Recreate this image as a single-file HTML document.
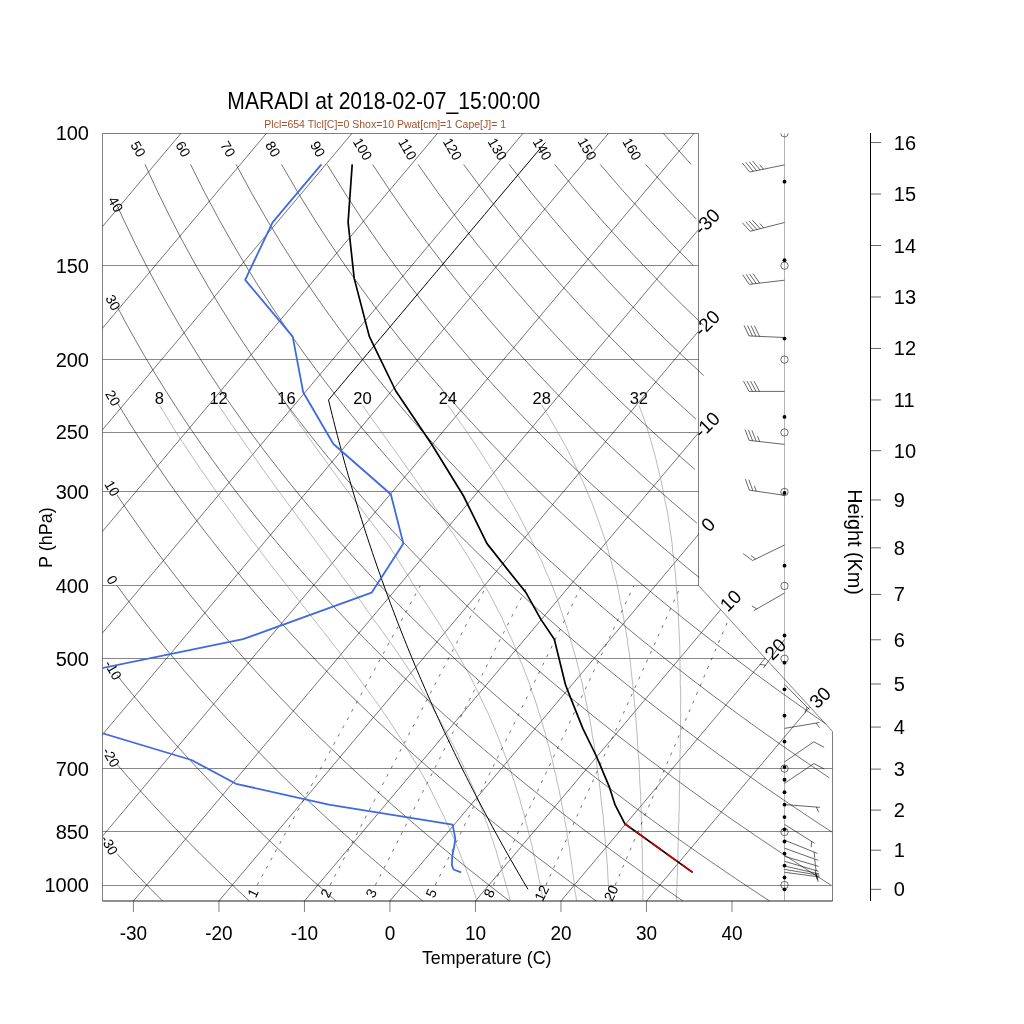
<!DOCTYPE html>
<html><head><meta charset="utf-8"><style>
html,body{margin:0;padding:0;background:#fff;}
svg{display:block;}
text{font-family:"Liberation Sans",Arial,Helvetica,sans-serif;}
</style></head><body>
<svg width="1024" height="1024" viewBox="0 0 1024 1024">
<defs><clipPath id="cp"><polygon points="102.50,901.00 102.50,133.30 698.50,133.30 698.50,585.50 832.50,731.47 832.50,901.00"/></clipPath>
<clipPath id="cpr"><rect x="0" y="133.20" width="1024" height="767.77"/></clipPath></defs>
<g clip-path="url(#cp)" fill="none">
<line x1="102.50" y1="885.50" x2="832.50" y2="885.50" stroke="#000" stroke-width="0.47"/>
<line x1="102.50" y1="831.50" x2="832.50" y2="831.50" stroke="#000" stroke-width="0.47"/>
<line x1="102.50" y1="768.50" x2="832.50" y2="768.50" stroke="#000" stroke-width="0.47"/>
<line x1="102.50" y1="658.50" x2="832.50" y2="658.50" stroke="#000" stroke-width="0.47"/>
<line x1="102.50" y1="585.50" x2="832.50" y2="585.50" stroke="#000" stroke-width="0.47"/>
<line x1="102.50" y1="491.50" x2="832.50" y2="491.50" stroke="#000" stroke-width="0.47"/>
<line x1="102.50" y1="432.50" x2="832.50" y2="432.50" stroke="#000" stroke-width="0.47"/>
<line x1="102.50" y1="359.50" x2="832.50" y2="359.50" stroke="#000" stroke-width="0.47"/>
<line x1="102.50" y1="265.50" x2="832.50" y2="265.50" stroke="#000" stroke-width="0.47"/>
<line x1="-550.66" y1="900.97" x2="95.52" y2="133.29" stroke="#000" stroke-width="0.55"/>
<line x1="-465.15" y1="900.97" x2="181.02" y2="133.29" stroke="#000" stroke-width="0.55"/>
<line x1="-379.64" y1="900.97" x2="266.53" y2="133.29" stroke="#000" stroke-width="0.55"/>
<line x1="-294.13" y1="900.97" x2="352.04" y2="133.29" stroke="#000" stroke-width="0.55"/>
<line x1="-208.62" y1="900.97" x2="437.55" y2="133.29" stroke="#000" stroke-width="0.55"/>
<line x1="-123.11" y1="900.97" x2="523.06" y2="133.29" stroke="#000" stroke-width="0.55"/>
<line x1="-37.60" y1="900.97" x2="608.57" y2="133.29" stroke="#000" stroke-width="0.55"/>
<line x1="47.91" y1="900.97" x2="694.08" y2="133.29" stroke="#000" stroke-width="0.55"/>
<line x1="133.42" y1="900.97" x2="779.59" y2="133.29" stroke="#000" stroke-width="0.55"/>
<line x1="218.93" y1="900.97" x2="865.10" y2="133.29" stroke="#000" stroke-width="0.55"/>
<line x1="304.44" y1="900.97" x2="950.61" y2="133.29" stroke="#000" stroke-width="0.55"/>
<line x1="389.95" y1="900.97" x2="1036.12" y2="133.29" stroke="#000" stroke-width="0.55"/>
<line x1="475.46" y1="900.97" x2="1121.63" y2="133.29" stroke="#000" stroke-width="0.55"/>
<line x1="560.96" y1="900.97" x2="1207.14" y2="133.29" stroke="#000" stroke-width="0.55"/>
<line x1="646.47" y1="900.97" x2="1292.65" y2="133.29" stroke="#000" stroke-width="0.55"/>
</g>
<g fill="none" stroke="#8c8c8c" stroke-width="0.6">
<polyline points="477.29,900.97 475.92,897.85 475.06,894.69 473.99,891.51 472.94,888.29 471.66,885.04 470.42,881.76 469.45,878.45 468.26,875.10 466.85,871.71 465.72,868.29 464.37,864.84 463.05,861.35 461.51,857.82 460.25,854.25 458.78,850.64 457.34,846.99 455.69,843.31 454.32,839.57 452.49,835.80 450.94,831.98 449.18,828.12 447.46,824.21 445.53,820.25 443.89,816.24 441.80,812.19 439.74,808.08 437.73,803.92 435.77,799.71 433.35,795.44 431.47,791.12 429.15,786.74 426.63,782.29 424.15,777.79 421.48,773.22 418.87,768.59 416.31,763.90 413.31,759.13 410.36,754.29 407.48,749.38 404.66,744.40 401.41,739.34 397.97,734.19 394.60,728.97 391.05,723.66 387.58,718.27 383.68,712.78 379.86,707.20 375.87,701.52 371.72,695.74 367.40,689.86 362.97,683.87 358.64,677.76 353.90,671.55 349.27,665.21 344.24,658.74 339.32,652.14 334.01,645.41 328.83,638.54 323.26,631.52 317.58,624.34 311.85,617.01 306.01,609.50 299.82,601.82 293.79,593.95 287.16,585.89 280.71,577.62 274.19,569.14 267.36,560.43 260.48,551.49 253.31,542.29 246.27,532.83 238.96,523.08 231.65,513.04 224.11,502.67 216.36,491.96 208.91,480.90 200.79,469.44 192.76,457.57 184.62,445.24 176.12,432.44 168.05,419.11 159.45,405.22"/>
<polyline points="510.11,900.97 509.49,897.85 508.63,894.69 507.81,891.51 507.01,888.29 505.98,885.04 504.99,881.76 504.27,878.45 503.08,875.10 502.42,871.71 501.29,868.29 500.19,864.84 499.12,861.35 498.08,857.82 497.08,854.25 496.11,850.64 494.67,846.99 493.77,843.31 492.40,839.57 491.06,835.80 489.77,831.98 488.51,828.12 487.29,824.21 485.62,820.25 484.23,816.24 482.88,812.19 481.33,808.08 479.57,803.92 477.85,799.71 476.18,795.44 474.56,791.12 472.74,786.74 470.47,782.29 468.75,777.79 466.58,773.22 464.46,768.59 462.40,763.90 459.90,759.13 457.96,754.29 455.33,749.38 452.76,744.40 450.01,739.34 447.32,734.19 444.70,728.97 441.66,723.66 438.68,718.27 435.54,712.78 432.47,707.20 428.73,701.52 425.33,695.74 421.51,689.86 418.12,683.87 414.06,677.76 410.11,671.55 406.01,665.21 401.51,658.74 397.12,652.14 392.34,645.41 387.44,638.54 382.40,631.52 377.25,624.34 371.76,617.01 366.41,609.50 361.22,601.82 355.17,593.95 349.29,585.89 343.08,577.62 337.05,569.14 330.21,560.43 323.57,551.49 316.64,542.29 309.47,532.83 302.29,523.08 294.87,513.04 287.21,502.67 279.33,491.96 271.26,480.90 263.02,469.44 254.87,457.57 246.10,445.24 237.24,432.44 227.92,419.11 218.57,405.22"/>
<polyline points="542.93,900.97 542.55,897.85 542.20,894.69 541.38,891.51 540.58,888.29 540.30,885.04 539.56,881.76 538.84,878.45 538.15,875.10 537.49,871.71 536.86,868.29 536.26,864.84 535.20,861.35 534.66,857.82 533.65,854.25 532.93,850.64 532.25,846.99 531.34,843.31 530.48,839.57 529.64,835.80 528.35,831.98 527.59,828.12 526.38,824.21 525.45,820.25 524.56,816.24 523.46,812.19 522.16,808.08 520.90,803.92 519.94,799.71 518.52,795.44 517.15,791.12 515.83,786.74 514.56,782.29 512.84,777.79 511.42,773.22 509.81,768.59 508.00,763.90 506.50,759.13 504.56,754.29 502.93,749.38 500.86,744.40 499.11,739.34 496.92,734.19 494.81,728.97 492.51,723.66 490.29,718.27 487.90,712.78 485.08,707.20 482.34,701.52 479.69,695.74 476.88,689.86 473.68,683.87 470.83,677.76 467.58,671.55 463.93,665.21 460.38,658.74 456.44,652.14 452.62,645.41 448.41,638.54 444.08,631.52 439.63,624.34 434.92,617.01 430.11,609.50 424.94,601.82 419.68,593.95 414.08,585.89 409.26,577.62 403.87,569.14 398.42,560.43 392.67,551.49 386.63,542.29 379.43,532.83 371.98,523.08 364.27,513.04 356.33,502.67 348.17,491.96 340.04,480.90 331.73,469.44 323.27,457.57 314.19,445.24 305.26,432.44 295.77,419.11 286.50,405.22"/>
<polyline points="576.50,900.97 576.12,897.85 575.77,894.69 574.95,891.51 574.65,888.29 574.37,885.04 574.13,881.76 573.41,878.45 573.23,875.10 572.57,871.71 572.19,868.29 571.84,864.84 571.27,861.35 570.73,857.82 570.23,854.25 569.76,850.64 569.32,846.99 568.42,843.31 568.05,839.57 567.22,835.80 566.93,831.98 566.17,828.12 565.46,824.21 564.78,820.25 564.14,816.24 563.30,812.19 562.50,808.08 561.74,803.92 561.02,799.71 560.11,795.44 559.24,791.12 558.42,786.74 557.15,782.29 556.43,777.79 555.26,773.22 554.15,768.59 553.09,763.90 552.09,759.13 550.65,754.29 549.52,749.38 548.21,744.40 546.71,739.34 545.52,734.19 543.91,728.97 542.37,723.66 540.90,718.27 539.05,712.78 537.28,707.20 535.60,701.52 533.50,695.74 531.49,689.86 529.57,683.87 527.24,677.76 524.76,671.55 522.38,665.21 519.60,658.74 517.09,652.14 514.43,645.41 511.40,638.54 507.99,631.52 504.71,624.34 501.57,617.01 497.56,609.50 493.71,601.82 489.51,593.95 484.97,585.89 480.41,577.62 475.54,569.14 470.35,560.43 464.86,551.49 458.83,542.29 452.47,532.83 445.84,523.08 438.97,513.04 431.86,502.67 424.03,491.96 416.23,480.90 408.26,469.44 399.89,457.57 390.89,445.24 381.80,432.44 372.14,419.11 362.46,405.22"/>
<polyline points="609.57,900.97 609.19,897.85 609.34,894.69 609.02,891.51 608.72,888.29 608.45,885.04 608.20,881.76 607.98,878.45 607.80,875.10 607.64,871.71 607.51,868.29 607.41,864.84 606.84,861.35 606.81,857.82 606.30,854.25 606.08,850.64 605.90,846.99 605.50,843.31 605.13,839.57 604.80,835.80 604.51,831.98 604.25,828.12 603.78,824.21 603.36,820.25 603.22,816.24 602.63,812.19 602.08,808.08 601.57,803.92 601.11,799.71 600.69,795.44 600.32,791.12 599.75,786.74 599.23,782.29 598.51,777.79 597.85,773.22 597.24,768.59 596.68,763.90 596.18,759.13 595.25,754.29 594.87,749.38 594.05,744.40 593.05,739.34 592.12,734.19 591.51,728.97 590.46,723.66 589.50,718.27 588.10,712.78 587.29,707.20 586.06,701.52 584.91,695.74 583.34,689.86 582.40,683.87 580.81,677.76 579.31,671.55 577.66,665.21 576.12,658.74 574.18,652.14 572.36,645.41 570.16,638.54 568.09,631.52 565.89,624.34 563.36,617.01 560.72,609.50 558.22,601.82 555.39,593.95 552.21,585.89 548.71,577.62 544.88,569.14 541.25,560.43 536.81,551.49 532.59,542.29 527.85,532.83 522.85,523.08 517.59,513.04 511.61,502.67 505.41,491.96 498.82,480.90 491.57,469.44 483.91,457.57 475.88,445.24 467.25,432.44 457.81,419.11 447.85,405.22"/>
<polyline points="643.14,900.97 642.76,897.85 642.91,894.69 643.09,891.51 642.79,888.29 642.77,885.04 642.77,881.76 642.56,878.45 642.87,875.10 642.71,871.71 642.58,868.29 642.48,864.84 642.42,861.35 642.38,857.82 642.38,854.25 642.41,850.64 641.97,846.99 642.07,843.31 641.96,839.57 641.88,835.80 641.58,831.98 641.83,828.12 641.61,824.21 641.44,820.25 641.30,816.24 641.21,812.19 641.16,808.08 640.90,803.92 640.69,799.71 640.77,795.44 640.41,791.12 640.09,786.74 639.82,782.29 639.60,777.79 639.43,773.22 639.32,768.59 639.27,763.90 638.77,759.13 638.33,754.29 637.96,749.38 637.64,744.40 637.40,739.34 637.21,734.19 636.60,728.97 636.31,723.66 635.84,718.27 635.25,712.78 634.99,707.20 634.31,701.52 633.97,695.74 633.21,689.86 632.80,683.87 631.98,677.76 631.25,671.55 630.63,665.21 629.86,658.74 629.20,652.14 627.91,645.41 627.23,638.54 625.93,631.52 624.76,624.34 623.49,617.01 622.11,609.50 620.38,601.82 619.06,593.95 617.40,585.89 615.40,577.62 613.09,569.14 610.97,560.43 608.55,551.49 605.84,542.29 602.72,532.83 599.33,523.08 595.70,513.04 591.83,502.67 587.24,491.96 582.47,480.90 577.01,469.44 571.41,457.57 565.18,445.24 557.85,432.44 550.46,419.11 541.80,405.22"/>
<polyline points="676.71,900.97 676.58,897.85 676.48,894.69 676.66,891.51 676.86,888.29 677.09,885.04 677.09,881.76 677.13,878.45 677.44,875.10 677.28,871.71 677.65,868.29 677.56,864.84 677.49,861.35 677.96,857.82 677.95,854.25 677.98,850.64 678.05,846.99 678.15,843.31 678.28,839.57 678.45,835.80 678.66,831.98 678.40,828.12 678.69,824.21 679.01,820.25 678.88,816.24 679.04,812.19 679.24,808.08 679.23,803.92 679.27,799.71 679.35,795.44 679.49,791.12 679.67,786.74 679.40,782.29 679.68,777.79 679.77,773.22 679.91,768.59 679.89,763.90 679.94,759.13 680.04,754.29 680.20,749.38 680.43,744.40 680.22,739.34 680.58,734.19 680.51,728.97 680.51,723.66 680.58,718.27 680.73,712.78 680.46,707.20 680.77,701.52 680.66,695.74 680.64,689.86 680.22,683.87 680.38,677.76 680.15,671.55 680.01,665.21 679.98,658.74 679.83,652.14 679.79,645.41 679.38,638.54 679.08,631.52 678.67,624.34 678.39,617.01 678.26,609.50 677.77,601.82 676.94,593.95 676.27,585.89 675.73,577.62 674.87,569.14 673.95,560.43 672.73,551.49 671.98,542.29 670.45,532.83 669.16,523.08 667.62,513.04 665.35,502.67 663.36,491.96 661.18,480.90 658.32,469.44 655.56,457.57 652.18,445.24 648.45,432.44 644.16,419.11 638.85,405.22"/>
</g>
<g clip-path="url(#cp)" fill="none" stroke="#000" stroke-width="0.55" stroke-dasharray="3,6.4">
<line x1="257.21" y1="885.04" x2="420.14" y2="585.89"/>
<line x1="330.17" y1="885.04" x2="486.43" y2="585.89"/>
<line x1="375.42" y1="885.04" x2="527.39" y2="585.89"/>
<line x1="435.32" y1="885.04" x2="581.45" y2="585.89"/>
<line x1="493.43" y1="885.04" x2="633.73" y2="585.89"/>
<line x1="545.94" y1="885.04" x2="680.83" y2="585.89"/>
<line x1="615.23" y1="885.04" x2="742.81" y2="585.89"/>
</g>
<g fill="none" stroke="#000" stroke-width="0.55">
<polyline points="117.07,853.82 117.47,854.25 120.79,857.82 124.10,861.35 127.40,864.84 130.67,868.29 133.93,871.71 137.18,875.10 140.41,878.45 143.62,881.76 146.82,885.04 150.01,888.29 153.18,891.51 156.33,894.69 159.47,897.85 162.60,900.97"/>
<polyline points="117.07,764.48 120.63,768.59 124.67,773.22 128.69,777.79 132.68,782.29 136.65,786.74 140.59,791.12 144.51,795.44 148.41,799.71 152.28,803.92 156.13,808.08 159.96,812.19 163.77,816.24 167.55,820.25 171.32,824.21 175.06,828.12 178.78,831.98 182.49,835.80 186.17,839.57 189.83,843.31 193.47,846.99 197.10,850.64 200.70,854.25 204.29,857.82 207.86,861.35 211.41,864.84 214.94,868.29 218.45,871.71 221.95,875.10 225.43,878.45 228.89,881.76 232.33,885.04 235.76,888.29 239.17,891.51 242.57,894.69 245.95,897.85 249.31,900.97"/>
<polyline points="117.07,675.30 119.04,677.76 123.95,683.87 128.83,689.86 133.67,695.74 138.47,701.52 143.24,707.20 147.97,712.78 152.66,718.27 157.33,723.66 161.95,728.97 166.55,734.19 171.12,739.34 175.65,744.40 180.15,749.38 184.62,754.29 189.06,759.13 193.48,763.90 197.86,768.59 202.21,773.22 206.54,777.79 210.84,782.29 215.11,786.74 219.35,791.12 223.57,795.44 227.76,799.71 231.93,803.92 236.07,808.08 240.19,812.19 244.28,816.24 248.35,820.25 252.39,824.21 256.42,828.12 260.41,831.98 264.39,835.80 268.34,839.57 272.27,843.31 276.18,846.99 280.07,850.64 283.94,854.25 287.79,857.82 291.61,861.35 295.42,864.84 299.20,868.29 302.97,871.71 306.72,875.10 310.44,878.45 314.15,881.76 317.84,885.04 321.52,888.29 325.17,891.51 328.80,894.69 332.42,897.85 336.02,900.97"/>
<polyline points="117.07,585.72 117.19,585.89 123.13,593.95 129.02,601.82 134.85,609.50 140.63,617.01 146.35,624.34 152.02,631.52 157.64,638.54 163.21,645.41 168.74,652.14 174.21,658.74 179.64,665.21 185.03,671.55 190.36,677.76 195.66,683.87 200.91,689.86 206.12,695.74 211.29,701.52 216.42,707.20 221.51,712.78 226.56,718.27 231.57,723.66 236.55,728.97 241.49,734.19 246.39,739.34 251.26,744.40 256.09,749.38 260.89,754.29 265.65,759.13 270.38,763.90 275.08,768.59 279.75,773.22 284.39,777.79 288.99,782.29 293.57,786.74 298.12,791.12 302.63,795.44 307.12,799.71 311.58,803.92 316.01,808.08 320.42,812.19 324.79,816.24 329.15,820.25 333.47,824.21 337.77,828.12 342.04,831.98 346.29,835.80 350.52,839.57 354.72,843.31 358.89,846.99 363.05,850.64 367.18,854.25 371.28,857.82 375.37,861.35 379.43,864.84 383.47,868.29 387.49,871.71 391.49,875.10 395.46,878.45 399.42,881.76 403.35,885.04 407.27,888.29 411.16,891.51 415.04,894.69 418.89,897.85 422.73,900.97"/>
<polyline points="117.07,495.05 122.17,502.67 129.23,513.04 136.21,523.08 143.12,532.83 149.95,542.29 156.70,551.49 163.38,560.43 169.99,569.14 176.53,577.62 183.01,585.89 189.41,593.95 195.76,601.82 202.04,609.50 208.26,617.01 214.42,624.34 220.52,631.52 226.56,638.54 232.55,645.41 238.48,652.14 244.36,658.74 250.19,665.21 255.96,671.55 261.69,677.76 267.37,683.87 273.00,689.86 278.58,695.74 284.12,701.52 289.61,707.20 295.05,712.78 300.46,718.27 305.82,723.66 311.14,728.97 316.42,734.19 321.66,739.34 326.86,744.40 332.03,749.38 337.15,754.29 342.24,759.13 347.29,763.90 352.31,768.59 357.29,773.22 362.24,777.79 367.15,782.29 372.03,786.74 376.88,791.12 381.69,795.44 386.48,799.71 391.23,803.92 395.95,808.08 400.64,812.19 405.31,816.24 409.94,820.25 414.55,824.21 419.12,828.12 423.67,831.98 428.20,835.80 432.69,839.57 437.16,843.31 441.60,846.99 446.02,850.64 450.41,854.25 454.78,857.82 459.12,861.35 463.44,864.84 467.74,868.29 472.01,871.71 476.26,875.10 480.48,878.45 484.68,881.76 488.86,885.04 493.02,888.29 497.16,891.51 501.27,894.69 505.37,897.85 509.44,900.97"/>
<polyline points="117.07,402.40 118.75,405.22 127.21,419.11 135.55,432.44 143.78,445.24 151.90,457.57 159.92,469.44 167.83,480.90 175.65,491.96 183.36,502.67 190.98,513.04 198.51,523.08 205.95,532.83 213.30,542.29 220.56,551.49 227.75,560.43 234.85,569.14 241.87,577.62 248.82,585.89 255.70,593.95 262.50,601.82 269.23,609.50 275.89,617.01 282.48,624.34 289.01,631.52 295.48,638.54 301.88,645.41 308.22,652.14 314.51,658.74 320.73,665.21 326.90,671.55 333.01,677.76 339.07,683.87 345.08,689.86 351.03,695.74 356.94,701.52 362.79,707.20 368.60,712.78 374.36,718.27 380.07,723.66 385.74,728.97 391.36,734.19 396.94,739.34 402.47,744.40 407.96,749.38 413.42,754.29 418.83,759.13 424.20,763.90 429.53,768.59 434.83,773.22 440.09,777.79 445.31,782.29 450.49,786.74 455.64,791.12 460.75,795.44 465.83,799.71 470.88,803.92 475.89,808.08 480.87,812.19 485.82,816.24 490.74,820.25 495.62,824.21 500.48,828.12 505.30,831.98 510.10,835.80 514.87,839.57 519.60,843.31 524.31,846.99 529.00,850.64 533.65,854.25 538.28,857.82 542.88,861.35 547.45,864.84 552.00,868.29 556.53,871.71 561.02,875.10 565.50,878.45 569.95,881.76 574.37,885.04 578.77,888.29 583.15,891.51 587.51,894.69 591.84,897.85 596.15,900.97"/>
<polyline points="117.07,306.51 117.08,306.53 127.09,325.19 136.96,342.84 146.67,359.59 156.24,375.52 165.66,390.70 174.94,405.22 184.08,419.11 193.09,432.44 201.97,445.24 210.73,457.57 219.36,469.44 227.87,480.90 236.27,491.96 244.55,502.67 252.73,513.04 260.81,523.08 268.78,532.83 276.65,542.29 284.43,551.49 292.11,560.43 299.71,569.14 307.21,577.62 314.64,585.89 321.98,593.95 329.24,601.82 336.42,609.50 343.52,617.01 350.55,624.34 357.51,631.52 364.40,638.54 371.22,645.41 377.97,652.14 384.65,658.74 391.28,665.21 397.84,671.55 404.34,677.76 410.78,683.87 417.16,689.86 423.49,695.74 429.76,701.52 435.98,707.20 442.14,712.78 448.26,718.27 454.32,723.66 460.33,728.97 466.29,734.19 472.21,739.34 478.08,744.40 483.90,749.38 489.68,754.29 495.42,759.13 501.11,763.90 506.76,768.59 512.37,773.22 517.94,777.79 523.46,782.29 528.95,786.74 534.40,791.12 539.82,795.44 545.19,799.71 550.53,803.92 555.83,808.08 561.10,812.19 566.34,816.24 571.53,820.25 576.70,824.21 581.83,828.12 586.93,831.98 592.00,835.80 597.04,839.57 602.05,843.31 607.02,846.99 611.97,850.64 616.89,854.25 621.77,857.82 626.63,861.35 631.46,864.84 636.27,868.29 641.04,871.71 645.79,875.10 650.52,878.45 655.21,881.76 659.88,885.04 664.53,888.29 669.15,891.51 673.74,894.69 678.31,897.85 682.86,900.97"/>
<polyline points="117.07,205.46 123.26,218.94 134.88,243.14 146.32,265.66 157.56,286.73 168.62,306.53 179.48,325.19 190.16,342.84 200.66,359.59 210.99,375.52 221.14,390.70 231.13,405.22 240.96,419.11 250.64,432.44 260.17,445.24 269.55,457.57 278.80,469.44 287.91,480.90 296.89,491.96 305.75,502.67 314.48,513.04 323.10,523.08 331.61,532.83 340.00,542.29 348.29,551.49 356.48,560.43 364.57,569.14 372.56,577.62 380.45,585.89 388.26,593.95 395.97,601.82 403.60,609.50 411.15,617.01 418.62,624.34 426.00,631.52 433.31,638.54 440.55,645.41 447.71,652.14 454.80,658.74 461.82,665.21 468.78,671.55 475.66,677.76 482.49,683.87 489.25,689.86 495.95,695.74 502.58,701.52 509.16,707.20 515.69,712.78 522.15,718.27 528.57,723.66 534.92,728.97 541.23,734.19 547.48,739.34 553.69,744.40 559.84,749.38 565.95,754.29 572.01,759.13 578.02,763.90 583.98,768.59 589.91,773.22 595.79,777.79 601.62,782.29 607.41,786.74 613.17,791.12 618.88,795.44 624.55,799.71 630.18,803.92 635.77,808.08 641.33,812.19 646.85,816.24 652.33,820.25 657.78,824.21 663.19,828.12 668.56,831.98 673.91,835.80 679.21,839.57 684.49,843.31 689.73,846.99 694.94,850.64 700.12,854.25 705.27,857.82 710.39,861.35 715.48,864.84 720.53,868.29 725.56,871.71 730.56,875.10 735.53,878.45 740.48,881.76 745.39,885.04 750.28,888.29 755.14,891.51 759.98,894.69 764.79,897.85 769.57,900.97"/>
<polyline points="145.00,164.40 158.11,192.81 171.00,218.94 183.64,243.14 196.05,265.66 208.22,286.73 220.16,306.53 231.87,325.19 243.37,342.84 254.65,359.59 265.74,375.52 276.62,390.70 287.32,405.22 297.84,419.11 308.18,432.44 318.36,445.24 328.37,457.57 338.23,469.44 347.94,480.90 357.51,491.96 366.94,502.67 376.23,513.04 385.40,523.08 394.43,532.83 403.35,542.29 412.15,551.49 420.84,560.43 429.42,569.14 437.90,577.62 446.27,585.89 454.54,593.95 462.71,601.82 470.79,609.50 478.78,617.01 486.69,624.34 494.50,631.52 502.23,638.54 509.88,645.41 517.45,652.14 524.95,658.74 532.37,665.21 539.71,671.55 546.99,677.76 554.19,683.87 561.33,689.86 568.40,695.74 575.41,701.52 582.35,707.20 589.23,712.78 596.05,718.27 602.81,723.66 609.52,728.97 616.16,734.19 622.76,739.34 629.29,744.40 635.78,749.38 642.21,754.29 648.59,759.13 654.93,763.90 661.21,768.59 667.45,773.22 673.63,777.79 679.78,782.29 685.88,786.74 691.93,791.12 697.94,795.44 703.91,799.71 709.83,803.92 715.72,808.08 721.56,812.19 727.36,816.24 733.13,820.25 738.85,824.21 744.54,828.12 750.19,831.98 755.81,835.80 761.39,839.57 766.93,843.31 772.44,846.99 777.92,850.64 783.36,854.25 788.77,857.82 794.14,861.35 799.49,864.84 804.80,868.29 810.08,871.71 815.33,875.10 820.55,878.45 825.74,881.76 830.90,885.04"/>
<polyline points="190.52,164.40 204.77,192.81 218.73,218.94 232.40,243.14 245.78,265.66 258.87,286.73 271.70,306.53 284.26,325.19 296.57,342.84 308.65,359.59 320.49,375.52 332.11,390.70 343.51,405.22 354.72,419.11 365.73,432.44 376.55,445.24 387.20,457.57 397.67,469.44 407.98,480.90 418.13,491.96 428.13,502.67 437.98,513.04 447.69,523.08 457.26,532.83 466.70,542.29 476.02,551.49 485.21,560.43 494.28,569.14 503.24,577.62 512.08,585.89 520.82,593.95 529.45,601.82 537.98,609.50 546.42,617.01 554.75,624.34 563.00,631.52 571.15,638.54 579.22,645.41 587.20,652.14 595.10,658.74 602.91,665.21 610.65,671.55 618.31,677.76 625.90,683.87 633.41,689.86 640.86,695.74 648.23,701.52 655.54,707.20 662.78,712.78 669.95,718.27 677.06,723.66 684.11,728.97 691.10,734.19 698.03,739.34 704.90,744.40 711.72,749.38 718.48,754.29 725.18,759.13 731.84,763.90 738.44,768.59 744.99,773.22 751.48,777.79 757.93,782.29 764.34,786.74 770.69,791.12 777.00,795.44 783.26,799.71 789.48,803.92 795.66,808.08 801.79,812.19 807.88,816.24 813.92,820.25 819.93,824.21 825.90,828.12 831.82,831.98"/>
<polyline points="236.03,164.40 251.43,192.81 266.47,218.94 281.16,243.14 295.51,265.66 309.53,286.73 323.24,306.53 336.65,325.19 349.78,342.84 362.64,359.59 375.23,375.52 387.59,390.70 399.70,405.22 411.60,419.11 423.27,432.44 434.75,445.24 446.02,457.57 457.11,469.44 468.02,480.90 478.75,491.96 489.32,502.67 499.73,513.04 509.99,523.08 520.09,532.83 530.06,542.29 539.88,551.49 549.57,560.43 559.14,569.14 568.58,577.62 577.90,585.89 587.10,593.95 596.19,601.82 605.17,609.50 614.05,617.01 622.82,624.34 631.49,631.52 640.07,638.54 648.55,645.41 656.94,652.14 665.24,658.74 673.46,665.21 681.59,671.55 689.64,677.76 697.61,683.87 705.50,689.86 713.31,695.74 721.05,701.52 728.72,707.20 736.32,712.78 743.85,718.27 751.31,723.66 758.70,728.97 766.04,734.19 773.30,739.34 780.51,744.40 787.66,749.38 794.74,754.29 801.77,759.13 808.74,763.90 815.66,768.59 822.52,773.22 829.33,777.79"/>
<polyline points="281.55,164.40 298.09,192.81 314.21,218.94 329.92,243.14 345.24,265.66 360.19,286.73 374.78,306.53 389.04,325.19 402.98,342.84 416.63,359.59 429.98,375.52 443.07,390.70 455.89,405.22 468.47,419.11 480.82,432.44 492.94,445.24 504.85,457.57 516.55,469.44 528.06,480.90 539.38,491.96 550.52,502.67 561.48,513.04 572.28,523.08 582.92,532.83 593.41,542.29 603.74,551.49 613.94,560.43 623.99,569.14 633.92,577.62 643.71,585.89 653.38,593.95 662.93,601.82 672.36,609.50 681.68,617.01 690.89,624.34 699.99,631.52 708.99,638.54 717.89,645.41 726.69,652.14 735.39,658.74 744.00,665.21 752.53,671.55 760.96,677.76 769.31,683.87 777.58,689.86 785.77,695.74 793.88,701.52 801.91,707.20 809.86,712.78 817.75,718.27 825.56,723.66"/>
<polyline points="327.06,164.40 344.75,192.81 361.95,218.94 378.68,243.14 394.97,265.66 410.84,286.73 426.32,306.53 441.43,325.19 456.19,342.84 470.62,359.59 484.73,375.52 498.55,390.70 512.08,405.22 525.35,419.11 538.36,432.44 551.13,445.24 563.67,457.57 575.99,469.44 588.09,480.90 600.00,491.96 611.71,502.67 623.23,513.04 634.58,523.08 645.75,532.83 656.76,542.29 667.61,551.49 678.30,560.43 688.85,569.14 699.26,577.62"/>
<polyline points="372.57,164.40 391.41,192.81 409.69,218.94 427.44,243.14 444.70,265.66 461.50,286.73 477.86,306.53 493.82,325.19 509.40,342.84 524.61,359.59 539.48,375.52 554.03,390.70 568.27,405.22 582.23,419.11 595.91,432.44 609.33,445.24 622.50,457.57 635.43,469.44 648.13,480.90 660.62,491.96 672.90,502.67 684.98,513.04 696.87,523.08"/>
<polyline points="418.09,164.40 438.07,192.81 457.43,218.94 476.20,243.14 494.43,265.66 512.16,286.73 529.41,306.53 546.21,325.19 562.60,342.84 578.60,359.59 594.23,375.52 609.51,390.70 624.46,405.22 639.11,419.11 653.45,432.44 667.52,445.24 681.32,457.57 694.87,469.44"/>
<polyline points="463.60,164.40 484.73,192.81 505.16,218.94 524.96,243.14 544.16,265.66 562.81,286.73 580.95,306.53 598.60,325.19 615.81,342.84 632.59,359.59 648.98,375.52 664.99,390.70 680.65,405.22 695.98,419.11"/>
<polyline points="509.11,164.40 531.39,192.81 552.90,218.94 573.72,243.14 593.89,265.66 613.47,286.73 632.49,306.53 650.99,325.19 669.01,342.84 686.58,359.59 703.73,375.52"/>
<polyline points="554.63,164.40 578.05,192.81 600.64,218.94 622.48,243.14 643.62,265.66 664.12,286.73 684.03,306.53 703.38,325.19"/>
<polyline points="600.14,164.40 624.71,192.81 648.38,218.94 671.24,243.14 693.35,265.66"/>
<polyline points="645.65,164.40 671.37,192.81 696.12,218.94"/>
<polyline points="663.18,133.29 691.17,164.40"/>
</g>
<polygon points="102.50,901.00 102.50,133.50 698.50,133.50 698.50,585.50 832.50,731.47 832.50,901.00" fill="none" stroke="#000" stroke-width="0.5"/>
<line x1="102.5" y1="901" x2="832.5" y2="901" stroke="#000" stroke-width="0.5"/>
<text x="138.28" y="149.00" transform="rotate(60.0 138.28 149.00)" font-size="14" text-anchor="middle" dominant-baseline="central">50</text>
<text x="183.18" y="149.00" transform="rotate(60.0 183.18 149.00)" font-size="14" text-anchor="middle" dominant-baseline="central">60</text>
<text x="228.09" y="149.00" transform="rotate(60.0 228.09 149.00)" font-size="14" text-anchor="middle" dominant-baseline="central">70</text>
<text x="272.99" y="149.00" transform="rotate(60.0 272.99 149.00)" font-size="14" text-anchor="middle" dominant-baseline="central">80</text>
<text x="317.89" y="149.00" transform="rotate(60.0 317.89 149.00)" font-size="14" text-anchor="middle" dominant-baseline="central">90</text>
<text x="362.80" y="149.00" transform="rotate(60.0 362.80 149.00)" font-size="14" text-anchor="middle" dominant-baseline="central">100</text>
<text x="407.70" y="149.00" transform="rotate(60.0 407.70 149.00)" font-size="14" text-anchor="middle" dominant-baseline="central">110</text>
<text x="452.61" y="149.00" transform="rotate(60.0 452.61 149.00)" font-size="14" text-anchor="middle" dominant-baseline="central">120</text>
<text x="497.51" y="149.00" transform="rotate(60.0 497.51 149.00)" font-size="14" text-anchor="middle" dominant-baseline="central">130</text>
<text x="542.42" y="149.00" transform="rotate(60.0 542.42 149.00)" font-size="14" text-anchor="middle" dominant-baseline="central">140</text>
<text x="587.32" y="149.00" transform="rotate(60.0 587.32 149.00)" font-size="14" text-anchor="middle" dominant-baseline="central">150</text>
<text x="632.22" y="149.00" transform="rotate(60.0 632.22 149.00)" font-size="14" text-anchor="middle" dominant-baseline="central">160</text>
<text x="115.75" y="204.20" transform="rotate(60.0 115.75 204.20)" font-size="14" text-anchor="middle" dominant-baseline="central">40</text>
<text x="113.20" y="302.40" transform="rotate(60.0 113.20 302.40)" font-size="14" text-anchor="middle" dominant-baseline="central">30</text>
<text x="113.00" y="398.00" transform="rotate(60.0 113.00 398.00)" font-size="14" text-anchor="middle" dominant-baseline="central">20</text>
<text x="112.20" y="488.20" transform="rotate(60.0 112.20 488.20)" font-size="14" text-anchor="middle" dominant-baseline="central">10</text>
<text x="112.30" y="580.00" transform="rotate(60.0 112.30 580.00)" font-size="14" text-anchor="middle" dominant-baseline="central">0</text>
<text x="113.20" y="670.00" transform="rotate(60.0 113.20 670.00)" font-size="14" text-anchor="middle" dominant-baseline="central">-10</text>
<text x="111.05" y="757.30" transform="rotate(60.0 111.05 757.30)" font-size="14" text-anchor="middle" dominant-baseline="central">-20</text>
<text x="109.50" y="845.00" transform="rotate(60.0 109.50 845.00)" font-size="14" text-anchor="middle" dominant-baseline="central">-30</text>
<text x="159.45" y="403.72" font-size="16.5" text-anchor="middle">8</text>
<text x="218.57" y="403.72" font-size="16.5" text-anchor="middle">12</text>
<text x="286.50" y="403.72" font-size="16.5" text-anchor="middle">16</text>
<text x="362.46" y="403.72" font-size="16.5" text-anchor="middle">20</text>
<text x="447.85" y="403.72" font-size="16.5" text-anchor="middle">24</text>
<text x="541.80" y="403.72" font-size="16.5" text-anchor="middle">28</text>
<text x="638.85" y="403.72" font-size="16.5" text-anchor="middle">32</text>
<text x="697.20" y="231.34" transform="rotate(-45.0 697.20 231.34)" font-size="19" text-anchor="start" dominant-baseline="central">-30</text>
<text x="697.20" y="332.93" transform="rotate(-45.0 697.20 332.93)" font-size="19" text-anchor="start" dominant-baseline="central">-20</text>
<text x="697.20" y="434.52" transform="rotate(-45.0 697.20 434.52)" font-size="19" text-anchor="start" dominant-baseline="central">-10</text>
<text x="704.40" y="528.51" transform="rotate(-45.0 704.40 528.51)" font-size="19" text-anchor="start" dominant-baseline="central">0</text>
<text x="723.07" y="608.22" transform="rotate(-45.0 723.07 608.22)" font-size="19" text-anchor="start" dominant-baseline="central">10</text>
<text x="767.84" y="656.62" transform="rotate(-45.0 767.84 656.62)" font-size="19" text-anchor="start" dominant-baseline="central">20</text>
<text x="812.60" y="705.03" transform="rotate(-45.0 812.60 705.03)" font-size="19" text-anchor="start" dominant-baseline="central">30</text>
<text x="252.91" y="893.04" transform="rotate(-65.0 252.91 893.04)" font-size="14" text-anchor="middle" dominant-baseline="central">1</text>
<text x="325.87" y="893.04" transform="rotate(-65.0 325.87 893.04)" font-size="14" text-anchor="middle" dominant-baseline="central">2</text>
<text x="371.12" y="893.04" transform="rotate(-65.0 371.12 893.04)" font-size="14" text-anchor="middle" dominant-baseline="central">3</text>
<text x="431.02" y="893.04" transform="rotate(-65.0 431.02 893.04)" font-size="14" text-anchor="middle" dominant-baseline="central">5</text>
<text x="489.13" y="893.04" transform="rotate(-65.0 489.13 893.04)" font-size="14" text-anchor="middle" dominant-baseline="central">8</text>
<text x="541.64" y="893.04" transform="rotate(-65.0 541.64 893.04)" font-size="14" text-anchor="middle" dominant-baseline="central">12</text>
<text x="610.93" y="893.04" transform="rotate(-65.0 610.93 893.04)" font-size="14" text-anchor="middle" dominant-baseline="central">20</text>
<text x="89" y="133.29" font-size="20" text-anchor="end" dominant-baseline="central">100</text>
<text x="89" y="265.66" font-size="20" text-anchor="end" dominant-baseline="central">150</text>
<text x="89" y="359.59" font-size="20" text-anchor="end" dominant-baseline="central">200</text>
<text x="89" y="432.44" font-size="20" text-anchor="end" dominant-baseline="central">250</text>
<text x="89" y="491.96" font-size="20" text-anchor="end" dominant-baseline="central">300</text>
<text x="89" y="585.89" font-size="20" text-anchor="end" dominant-baseline="central">400</text>
<text x="89" y="658.74" font-size="20" text-anchor="end" dominant-baseline="central">500</text>
<text x="89" y="768.59" font-size="20" text-anchor="end" dominant-baseline="central">700</text>
<text x="89" y="831.98" font-size="20" text-anchor="end" dominant-baseline="central">850</text>
<text x="89" y="885.04" font-size="20" text-anchor="end" dominant-baseline="central">1000</text>
<line x1="133.42" y1="900.97" x2="133.42" y2="911.97" stroke="#000" stroke-width="0.5"/>
<text transform="translate(133.42 939.5) scale(1 1.06)" font-size="19" text-anchor="middle">-30</text>
<line x1="218.93" y1="900.97" x2="218.93" y2="911.97" stroke="#000" stroke-width="0.5"/>
<text transform="translate(218.93 939.5) scale(1 1.06)" font-size="19" text-anchor="middle">-20</text>
<line x1="304.44" y1="900.97" x2="304.44" y2="911.97" stroke="#000" stroke-width="0.5"/>
<text transform="translate(304.44 939.5) scale(1 1.06)" font-size="19" text-anchor="middle">-10</text>
<line x1="389.95" y1="900.97" x2="389.95" y2="911.97" stroke="#000" stroke-width="0.5"/>
<text transform="translate(389.95 939.5) scale(1 1.06)" font-size="19" text-anchor="middle">0</text>
<line x1="475.46" y1="900.97" x2="475.46" y2="911.97" stroke="#000" stroke-width="0.5"/>
<text transform="translate(475.46 939.5) scale(1 1.06)" font-size="19" text-anchor="middle">10</text>
<line x1="560.96" y1="900.97" x2="560.96" y2="911.97" stroke="#000" stroke-width="0.5"/>
<text transform="translate(560.96 939.5) scale(1 1.06)" font-size="19" text-anchor="middle">20</text>
<line x1="646.47" y1="900.97" x2="646.47" y2="911.97" stroke="#000" stroke-width="0.5"/>
<text transform="translate(646.47 939.5) scale(1 1.06)" font-size="19" text-anchor="middle">30</text>
<line x1="731.98" y1="900.97" x2="731.98" y2="911.97" stroke="#000" stroke-width="0.5"/>
<text transform="translate(731.98 939.5) scale(1 1.06)" font-size="19" text-anchor="middle">40</text>
<text x="486.7" y="963.6" font-size="17.8" text-anchor="middle">Temperature (C)</text>
<text transform="translate(52.2 537.6) rotate(-90)" font-size="18" text-anchor="middle">P (hPa)</text>
<line x1="870.5" y1="133" x2="870.5" y2="901" stroke="#000" stroke-width="1"/>
<line x1="870.5" y1="889.34" x2="881" y2="889.34" stroke="#000" stroke-width="0.6"/>
<text x="893.8" y="889.34" font-size="20" dominant-baseline="central">0</text>
<line x1="870.5" y1="850.19" x2="881" y2="850.19" stroke="#000" stroke-width="0.6"/>
<text x="893.8" y="850.19" font-size="20" dominant-baseline="central">1</text>
<line x1="870.5" y1="810.12" x2="881" y2="810.12" stroke="#000" stroke-width="0.6"/>
<text x="893.8" y="810.12" font-size="20" dominant-baseline="central">2</text>
<line x1="870.5" y1="769.10" x2="881" y2="769.10" stroke="#000" stroke-width="0.6"/>
<text x="893.8" y="769.10" font-size="20" dominant-baseline="central">3</text>
<line x1="870.5" y1="727.07" x2="881" y2="727.07" stroke="#000" stroke-width="0.6"/>
<text x="893.8" y="727.07" font-size="20" dominant-baseline="central">4</text>
<line x1="870.5" y1="683.99" x2="881" y2="683.99" stroke="#000" stroke-width="0.6"/>
<text x="893.8" y="683.99" font-size="20" dominant-baseline="central">5</text>
<line x1="870.5" y1="639.79" x2="881" y2="639.79" stroke="#000" stroke-width="0.6"/>
<text x="893.8" y="639.79" font-size="20" dominant-baseline="central">6</text>
<line x1="870.5" y1="594.43" x2="881" y2="594.43" stroke="#000" stroke-width="0.6"/>
<text x="893.8" y="594.43" font-size="20" dominant-baseline="central">7</text>
<line x1="870.5" y1="547.84" x2="881" y2="547.84" stroke="#000" stroke-width="0.6"/>
<text x="893.8" y="547.84" font-size="20" dominant-baseline="central">8</text>
<line x1="870.5" y1="499.95" x2="881" y2="499.95" stroke="#000" stroke-width="0.6"/>
<text x="893.8" y="499.95" font-size="20" dominant-baseline="central">9</text>
<line x1="870.5" y1="450.68" x2="881" y2="450.68" stroke="#000" stroke-width="0.6"/>
<text x="893.8" y="450.68" font-size="20" dominant-baseline="central">10</text>
<line x1="870.5" y1="399.95" x2="881" y2="399.95" stroke="#000" stroke-width="0.6"/>
<text x="893.8" y="399.95" font-size="20" dominant-baseline="central">11</text>
<line x1="870.5" y1="348.47" x2="881" y2="348.47" stroke="#000" stroke-width="0.6"/>
<text x="893.8" y="348.47" font-size="20" dominant-baseline="central">12</text>
<line x1="870.5" y1="296.99" x2="881" y2="296.99" stroke="#000" stroke-width="0.6"/>
<text x="893.8" y="296.99" font-size="20" dominant-baseline="central">13</text>
<line x1="870.5" y1="245.50" x2="881" y2="245.50" stroke="#000" stroke-width="0.6"/>
<text x="893.8" y="245.50" font-size="20" dominant-baseline="central">14</text>
<line x1="870.5" y1="194.02" x2="881" y2="194.02" stroke="#000" stroke-width="0.6"/>
<text x="893.8" y="194.02" font-size="20" dominant-baseline="central">15</text>
<line x1="870.5" y1="142.54" x2="881" y2="142.54" stroke="#000" stroke-width="0.6"/>
<text x="893.8" y="142.54" font-size="20" dominant-baseline="central">16</text>
<text transform="translate(847.8 542.1) rotate(90)" font-size="19.8" text-anchor="middle">Height (Km)</text>
<text transform="translate(383.8 108.7) scale(1 1.09)" font-size="21.1" text-anchor="middle">MARADI at 2018-02-07_15:00:00</text>
<text x="385.2" y="127.8" font-size="10.5" fill="#a0522d" text-anchor="middle">Plcl=654 Tlcl[C]=0 Shox=10 Pwat[cm]=1 Cape[J]= 1</text>
<polyline points="528.00,889.34 525.70,885.46 523.42,881.58 521.13,877.69 518.86,873.78 516.59,869.87 514.33,865.95 512.08,862.03 509.84,858.09 507.60,854.14 505.37,850.19 503.15,846.22 500.94,842.25 498.73,838.27 496.54,834.27 494.35,830.27 492.16,826.26 489.99,822.24 487.82,818.21 485.67,814.17 483.52,810.12 481.37,806.06 479.24,802.00 477.11,797.92 475.00,793.83 472.89,789.73 470.79,785.63 468.69,781.51 466.61,777.38 464.53,773.25 462.47,769.10 460.41,764.94 458.36,760.77 456.31,756.60 454.28,752.41 452.25,748.21 450.24,744.01 448.23,739.79 446.23,735.56 444.24,731.32 442.26,727.07 440.29,722.81 438.32,718.54 436.37,714.26 434.42,709.97 432.49,705.66 430.56,701.35 428.64,697.03 426.73,692.69 424.83,688.34 422.94,683.99 421.06,679.62 419.19,675.24 417.33,670.85 415.47,666.45 413.63,662.03 411.80,657.61 409.97,653.17 408.16,648.72 406.35,644.27 404.56,639.79 402.77,635.31 401.00,630.82 399.23,626.31 397.48,621.79 395.73,617.26 394.00,612.72 392.27,608.17 390.56,603.60 388.85,599.02 387.16,594.43 385.48,589.83 383.80,585.21 382.14,580.59 380.49,575.95 378.85,571.29 377.21,566.63 375.59,561.95 373.98,557.26 372.39,552.56 370.80,547.84 369.22,543.11 367.65,538.37 366.10,533.61 364.56,528.84 363.02,524.06 361.50,519.26 359.99,514.46 358.49,509.63 357.00,504.80 355.53,499.95 354.06,495.08 352.61,490.21 351.17,485.31 349.74,480.41 348.32,475.49 346.92,470.56 345.53,465.61 344.14,460.65 342.78,455.67 341.42,450.68 340.07,445.67 338.74,440.65 337.42,435.62 336.11,430.57 334.82,425.50 333.54,420.42 332.27,415.33 331.01,410.22 329.77,405.09 328.53,399.95 332.87,394.80 337.20,389.66 341.53,384.51 345.87,379.36 350.20,374.21 354.53,369.06 358.87,363.91 363.20,358.77 367.53,353.62 371.87,348.47 376.20,343.32 380.53,338.17 384.87,333.02 389.20,327.88 393.53,322.73 397.87,317.58 402.20,312.43 406.54,307.28 410.87,302.14 415.20,296.99 419.54,291.84 423.87,286.69 428.20,281.54 432.54,276.39 436.87,271.25 441.20,266.10 445.54,260.95 449.87,255.80 454.20,250.65 458.54,245.50 462.87,240.36 467.20,235.21 471.54,230.06 475.87,224.91 480.20,219.76 484.54,214.62 488.87,209.47 493.20,204.32 497.54,199.17 501.87,194.02 506.20,188.87 510.54,183.73 514.87,178.58 519.20,173.43 523.54,168.28 527.87,163.13 532.20,157.98 536.54,152.84 540.87,147.69 545.20,142.54" fill="none" stroke="#000" stroke-width="1"/>
<polyline points="352.20,164.40 348.10,222.40 354.20,278.40 369.30,336.40 395.80,391.00 432.00,444.70 463.50,496.00 487.00,543.60 526.10,592.80 540.90,619.40 554.30,639.30 565.50,684.70 570.40,697.40 582.90,728.60 596.30,756.00 601.10,767.30 609.20,786.60 615.10,804.90 624.80,823.70 692.60,872.40" fill="none" stroke="#000" stroke-width="1.7" stroke-linejoin="round"/>
<line x1="624.8" y1="823.7" x2="692.6" y2="872.4" stroke="#cc0000" stroke-width="1.7" stroke-dasharray="13.5 5.5" stroke-dashoffset="6"/>
<g clip-path="url(#cp)" fill="none" stroke="#4169e1" stroke-width="1.8" stroke-linejoin="round">
<polyline points="321.40,164.30 272.60,222.30 245.20,279.90 292.70,336.70 303.20,392.30 333.40,444.00 390.80,494.20 403.40,543.60 371.60,592.70 243.00,639.20 95.00,669.50"/>
<polyline points="95.00,731.00 191.50,760.00 236.00,783.80 328.80,804.60 452.60,824.70 455.30,838.70 454.30,845.60 452.20,856.50 451.90,865.40 453.60,869.50 461.10,872.40"/>
</g>
<g clip-path="url(#cpr)">
<line x1="784.50" y1="133.20" x2="784.50" y2="900.97" stroke="#000" stroke-width="0.3"/>
<circle cx="784.50" cy="133.29" r="3.7" fill="none" stroke="#000" stroke-width="0.55"/>
<circle cx="784.50" cy="265.66" r="3.7" fill="none" stroke="#000" stroke-width="0.55"/>
<circle cx="784.50" cy="359.59" r="3.7" fill="none" stroke="#000" stroke-width="0.55"/>
<circle cx="784.50" cy="432.44" r="3.7" fill="none" stroke="#000" stroke-width="0.55"/>
<circle cx="784.50" cy="491.96" r="3.7" fill="none" stroke="#000" stroke-width="0.55"/>
<circle cx="784.50" cy="585.89" r="3.7" fill="none" stroke="#000" stroke-width="0.55"/>
<circle cx="784.50" cy="658.74" r="3.7" fill="none" stroke="#000" stroke-width="0.55"/>
<circle cx="784.50" cy="768.59" r="3.7" fill="none" stroke="#000" stroke-width="0.55"/>
<circle cx="784.50" cy="831.98" r="3.7" fill="none" stroke="#000" stroke-width="0.55"/>
<circle cx="784.50" cy="885.04" r="3.7" fill="none" stroke="#000" stroke-width="0.55"/>
<circle cx="784.50" cy="889.34" r="1.9" fill="#000"/>
<circle cx="784.50" cy="877.50" r="1.9" fill="#000"/>
<circle cx="784.50" cy="865.58" r="1.9" fill="#000"/>
<circle cx="784.50" cy="853.57" r="1.9" fill="#000"/>
<circle cx="784.50" cy="841.48" r="1.9" fill="#000"/>
<circle cx="784.50" cy="829.31" r="1.9" fill="#000"/>
<circle cx="784.50" cy="817.05" r="1.9" fill="#000"/>
<circle cx="784.50" cy="804.70" r="1.9" fill="#000"/>
<circle cx="784.50" cy="792.26" r="1.9" fill="#000"/>
<circle cx="784.50" cy="779.73" r="1.9" fill="#000"/>
<circle cx="784.50" cy="767.10" r="1.9" fill="#000"/>
<circle cx="784.50" cy="741.58" r="1.9" fill="#000"/>
<circle cx="784.50" cy="715.66" r="1.9" fill="#000"/>
<circle cx="784.50" cy="689.35" r="1.9" fill="#000"/>
<circle cx="784.50" cy="662.63" r="1.9" fill="#000"/>
<circle cx="784.50" cy="635.49" r="1.9" fill="#000"/>
<circle cx="784.50" cy="565.69" r="1.9" fill="#000"/>
<circle cx="784.50" cy="492.94" r="1.9" fill="#000"/>
<circle cx="784.50" cy="416.96" r="1.9" fill="#000"/>
<circle cx="784.50" cy="338.59" r="1.9" fill="#000"/>
<circle cx="784.50" cy="260.13" r="1.9" fill="#000"/>
<circle cx="784.50" cy="181.67" r="1.9" fill="#000"/>
</g>
<path d="M784.50 164.90L749.72 172.00M749.72 172.00l-7.45 -9.02M753.15 171.30l-7.45 -9.02M756.58 170.60l-7.45 -9.02M760.00 169.90l-7.45 -9.02M763.43 169.20l-3.69 -4.47" fill="none" stroke="#000" stroke-width="0.6"/>
<path d="M784.50 222.50L750.11 231.30M750.11 231.30l-7.88 -8.65M753.50 230.43l-7.88 -8.65M756.89 229.56l-7.88 -8.65M760.28 228.69l-7.88 -8.65M763.67 227.83l-3.91 -4.29" fill="none" stroke="#000" stroke-width="0.6"/>
<path d="M784.50 280.20L749.24 284.34M749.24 284.34l-6.66 -9.62M752.72 283.93l-6.66 -9.62M756.19 283.53l-6.66 -9.62M759.67 283.12l-6.66 -9.62" fill="none" stroke="#000" stroke-width="0.6"/>
<path d="M784.50 337.50L749.03 335.93M749.03 335.93l-5.03 -10.56M752.53 336.08l-5.03 -10.56M756.03 336.24l-5.03 -10.56M759.52 336.39l-5.03 -10.56" fill="none" stroke="#000" stroke-width="0.6"/>
<path d="M784.50 391.40L749.00 391.40M749.00 391.40l-5.49 -10.33M752.50 391.40l-5.49 -10.33M756.00 391.40l-5.49 -10.33M759.50 391.40l-5.49 -10.33" fill="none" stroke="#000" stroke-width="0.6"/>
<path d="M784.50 444.40L749.23 440.40M749.23 440.40l-4.29 -10.88M752.70 440.80l-4.29 -10.88M756.18 441.19l-4.29 -10.88M759.66 441.59l-2.13 -5.40" fill="none" stroke="#000" stroke-width="0.6"/>
<path d="M784.50 495.30L749.36 490.22M749.36 490.22l-3.96 -11.01M752.83 490.72l-3.96 -11.01M756.29 491.22l-1.96 -5.46" fill="none" stroke="#000" stroke-width="0.6"/>
<path d="M784.50 545.00L752.57 560.51M752.57 560.51l-9.45 -6.89M755.72 558.98l-4.69 -3.42" fill="none" stroke="#000" stroke-width="0.6"/>
<path d="M784.50 593.00L753.75 610.74M756.78 608.99l-4.92 -3.07" fill="none" stroke="#000" stroke-width="0.6"/>
<path d="M784.50 639.50L763.39 668.04M765.47 665.23l-5.74 -0.86" fill="none" stroke="#000" stroke-width="0.6"/>
<path d="M784.50 684.30L809.45 709.55M806.99 707.06l-1.73 5.54" fill="none" stroke="#000" stroke-width="0.6"/>
<path d="M784.50 728.40L819.51 722.52M816.06 723.10l3.53 4.60" fill="none" stroke="#000" stroke-width="0.6"/>
<path d="M784.50 761.90L813.78 741.83M813.78 741.83l10.37 5.42" fill="none" stroke="#000" stroke-width="0.6"/>
<path d="M784.50 783.40L813.93 763.55M813.93 763.55l10.33 5.49" fill="none" stroke="#000" stroke-width="0.6"/>
<path d="M784.50 804.60L819.89 807.33M816.41 807.06l2.32 5.32" fill="none" stroke="#000" stroke-width="0.6"/>
<path d="M784.50 824.40L814.56 843.29M811.60 841.42l-0.42 5.78" fill="none" stroke="#000" stroke-width="0.6"/>
<path d="M784.50 840.10L817.41 853.42M814.16 852.11l0.60 5.77" fill="none" stroke="#000" stroke-width="0.6"/>
<path d="M784.50 848.20L817.91 860.21M814.61 859.03l0.83 5.74" fill="none" stroke="#000" stroke-width="0.6"/>
<path d="M784.50 856.30L818.55 866.35M815.19 865.36l1.16 5.68" fill="none" stroke="#000" stroke-width="0.6"/>
<path d="M784.50 861.30L818.56 871.31M815.20 870.32l1.17 5.68" fill="none" stroke="#000" stroke-width="0.6"/>
<path d="M784.50 866.00L819.11 873.91M815.70 873.13l1.51 5.60" fill="none" stroke="#000" stroke-width="0.6"/>
<path d="M784.50 869.40L819.51 875.27M816.06 874.69l1.84 5.50" fill="none" stroke="#000" stroke-width="0.6"/>
<path d="M784.50 872.30L819.69 876.97M816.22 876.51l2.03 5.43" fill="none" stroke="#000" stroke-width="0.6"/>
</svg>
</body></html>
